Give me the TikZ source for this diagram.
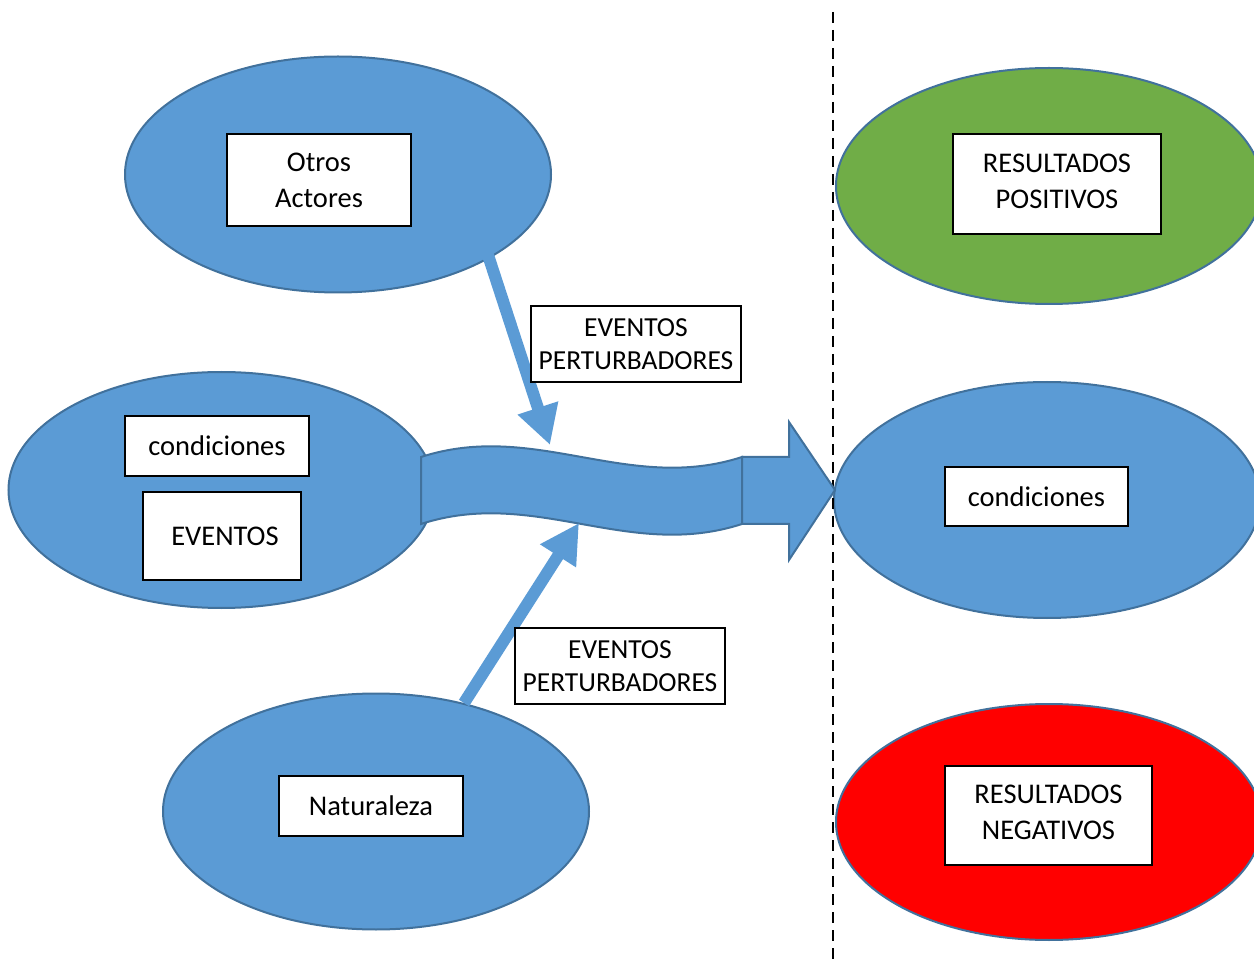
\documentclass[tikz,border=0pt]{standalone}
\usepackage{fontspec}
\setmainfont{Carlito}
\usetikzlibrary{shapes.geometric,arrows.meta}
\definecolor{fillblue}{HTML}{5B9BD5}
\definecolor{edgeblue}{HTML}{41719C}
\definecolor{leafgreen}{HTML}{70AD47}
\definecolor{alarmred}{HTML}{FF0000}
\tikzset{
  blob/.style={ellipse, draw=edgeblue, line width=2pt, minimum width=426pt,
    minimum height=236pt, inner sep=0pt},
  tagbox/.style={draw=black, line width=1.2pt, fill=white, align=center,
    inner sep=0pt, font=\fontsize{28.5}{36}\selectfont},
  tightbox/.style={tagbox, font=\fontsize{27.5}{33}\selectfont},
  push/.style={draw=fillblue, line width=12pt, -{Triangle[length=39pt,width=40pt]}},
  flow/.style={fill=fillblue, draw=edgeblue, line width=2pt, line join=miter},
  divider/.style={draw=black, line width=2.8pt, dash pattern=on 11pt off 7pt},
}
\begin{document}
\begin{tikzpicture}[x=1pt,y=-1pt]
  \useasboundingbox (0,0) rectangle (1254,965);
  \clip (0,0) rectangle (1254,965);

  % source ellipses
  \node[blob, fill=fillblue] (actores) at (338,174.5) {};
  \node[blob, fill=fillblue] (origen) at (221.5,490) {};
  \node[blob, fill=fillblue] (naturaleza) at (376,811.5) {};

  % outcome ellipses
  \node[blob, fill=leafgreen] (positivo) at (1049,186) {};
  \node[blob, fill=fillblue] (estado) at (1047,500) {};
  \node[blob, fill=alarmred] (negativo) at (1049,822) {};

  % separator
  \coordinate (divtop) at (833,12);
  \coordinate (divbot) at (833,965);
  \draw[divider] (divtop) -- (divbot);

  % wavy band leading out of the left ellipse
  \draw[flow] (421,457) .. controls (535,420) and (628,494) .. (742,457)
    -- (742,524) .. controls (628,561) and (535,487) .. (421,524) -- cycle;
  % block arrow into the outcome side
  \draw[flow] (742,457) -- (789,457) -- (789,422) -- (835,490)
    -- (789,560) -- (789,524) -- (742,524) -- cycle;

  % disturbing events
  \coordinate (p1s) at (488,255);
  \coordinate (p1e) at (550,445);
  \coordinate (p2s) at (464,703);
  \coordinate (p2e) at (579,523);
  \draw[push] (p1s) -- (p1e);
  \draw[push] (p2s) -- (p2e);

  % labels
  \node[tagbox, minimum width=184pt, minimum height=92pt] (tactores) at (319,180) {Otros\\Actores};
  \node[tagbox, minimum width=184pt, minimum height=60pt] (tcond) at (217,446) {condiciones};
  \node[tagbox, minimum width=158pt, minimum height=88pt] (teventos) at (222,536) {\hspace*{6pt}EVENTOS};
  \node[tagbox, minimum width=184pt, minimum height=60pt] (tnat) at (371,806) {Naturaleza};
  \node[tightbox, minimum width=210pt, minimum height=76pt] (tpert1) at (636,344) {EVENTOS\\PERTURBADORES};
  \node[tightbox, minimum width=210pt, minimum height=76pt] (tpert2) at (620,666) {EVENTOS\\PERTURBADORES};
  \node[tagbox, minimum width=208pt, minimum height=100pt] (tpos) at (1057,184) {RESULTADOS\\POSITIVOS\\[-30pt]\mbox{}};
  \node[tagbox, minimum width=183pt, minimum height=59pt] (tcond2) at (1036.5,496.5) {condiciones};
  \node[tagbox, minimum width=207pt, minimum height=99pt] (tneg) at (1048.5,815.5) {RESULTADOS\\NEGATIVOS\\[-30pt]\mbox{}};
\end{tikzpicture}
\end{document}
